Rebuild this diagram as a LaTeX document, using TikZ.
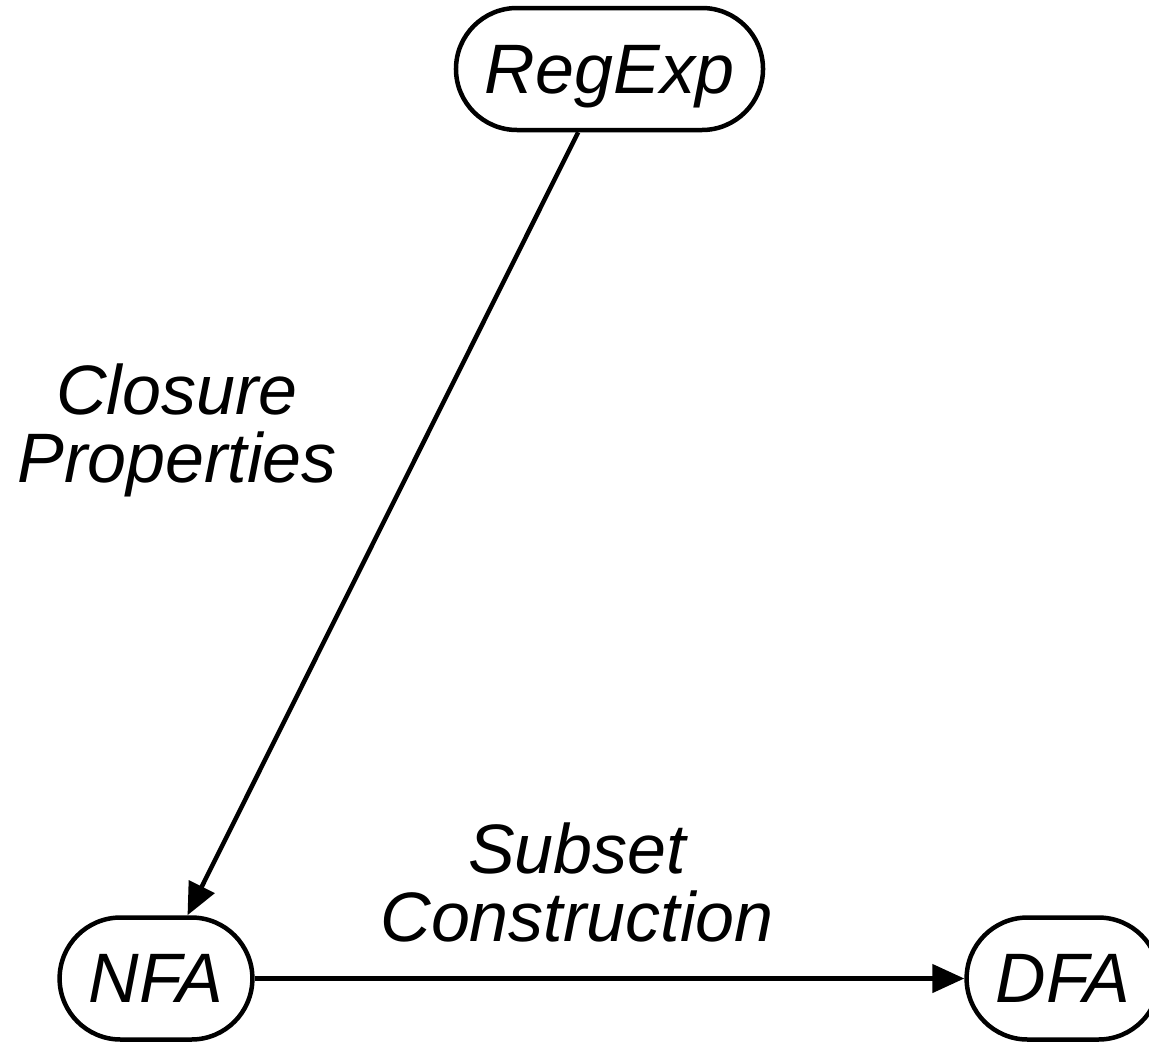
\documentclass[tikz,border=0pt]{standalone}
\usepackage{fontspec}
\setmainfont{Liberation Sans}
\usetikzlibrary{arrows.meta}
\begin{document}
\begin{tikzpicture}[x=1pt,y=-1pt,
  state/.style={draw,line width=4.5pt,rounded corners=61pt,minimum height=122pt,
    inner xsep=29pt,inner ysep=0pt,text depth=0pt,font=\fontsize{70}{68}\selectfont\itshape},
  lbl/.style={align=center,font=\fontsize{70}{68}\selectfont\itshape},
  edge/.style={line width=4.5pt,-{Triangle[length=32pt,width=28pt]}}]
\useasboundingbox (0,0) rectangle (1149,1042);
\node[state] (re) at (609.5,69) {RegExp};
\node[state] (nfa) at (156,978.5) {NFA};
\node[state] (dfa) at (1063,978.5) {DFA};
\draw[edge] (re) -- (nfa);
\draw[edge] (nfa) -- (dfa);
\node[lbl] (cp) at (177,430) {Closure\\Properties};
\node[lbl] (sc) at (577,882) {Subset\\Construction};
\end{tikzpicture}
\end{document}
